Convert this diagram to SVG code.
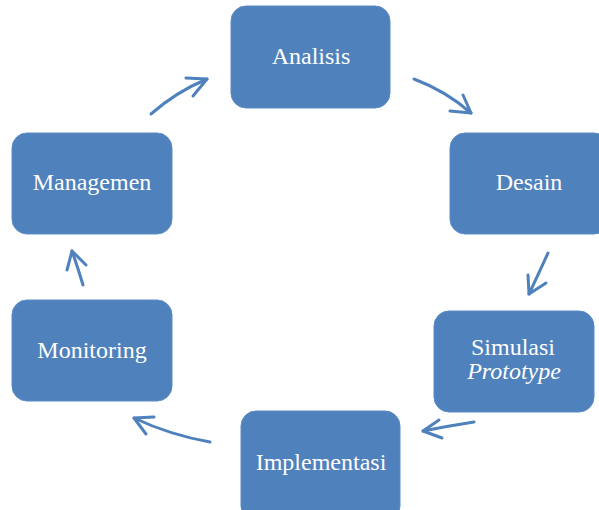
<svg xmlns="http://www.w3.org/2000/svg" width="599" height="510" viewBox="0 0 599 510">
<style>
.box{fill:#4F81BD;stroke:#5B8BC5;stroke-width:1}
.lbl{font-family:"Liberation Serif","Times New Roman",serif;font-size:24px;fill:#FFFFFF;text-anchor:middle}
.it{font-style:italic}
.ln{fill:none;stroke:#4F81BD;stroke-width:3;stroke-linecap:round;stroke-linejoin:round}
</style>
<rect width="599" height="510" fill="#FFFFFF"/>
<g id="analisis"><rect class="box" x="231" y="6" width="159" height="102" rx="15"/><text class="lbl" x="311" y="64">Analisis</text></g>
<g id="desain"><rect class="box" x="450" y="133" width="159" height="101" rx="15"/><text class="lbl" x="529" y="190">Desain</text></g>
<g id="simulasi"><rect class="box" x="434" y="311" width="160" height="101" rx="15"/><text class="lbl" x="513" y="355">Simulasi</text><text class="lbl it" x="514" y="379">Prototype</text></g>
<g id="implementasi"><rect class="box" x="241" y="411" width="159" height="110" rx="15"/><text class="lbl" x="321" y="470">Implementasi</text></g>
<g id="monitoring"><rect class="box" x="12" y="300" width="160" height="101" rx="15"/><text class="lbl" x="92" y="358">Monitoring</text></g>
<g id="managemen"><rect class="box" x="12" y="133" width="160" height="101" rx="15"/><text class="lbl" x="92" y="190">Managemen</text></g>
<g id="connectors">
<path class="ln" d="M151,114 Q176,92 207,79"/><polyline class="ln" points="186,78 207,79 193,96"/>
<path class="ln" d="M414,79 Q446,91 471,113"/><polyline class="ln" points="450,111 471,113 463,95"/>
<path class="ln" d="M548,253 Q538,275 529,294"/><polyline class="ln" points="528,275 529,294 546,283"/>
<path class="ln" d="M474,422 Q448,426 423,431"/><polyline class="ln" points="439,420 423,431 442,438"/>
<path class="ln" d="M210,442 Q170,435 134,418"/><polyline class="ln" points="154,417 134,418 146,434"/>
<path class="ln" d="M83,285 Q78,268 72,251"/><polyline class="ln" points="67,270 72,251 86,265"/>
</g>
</svg>
